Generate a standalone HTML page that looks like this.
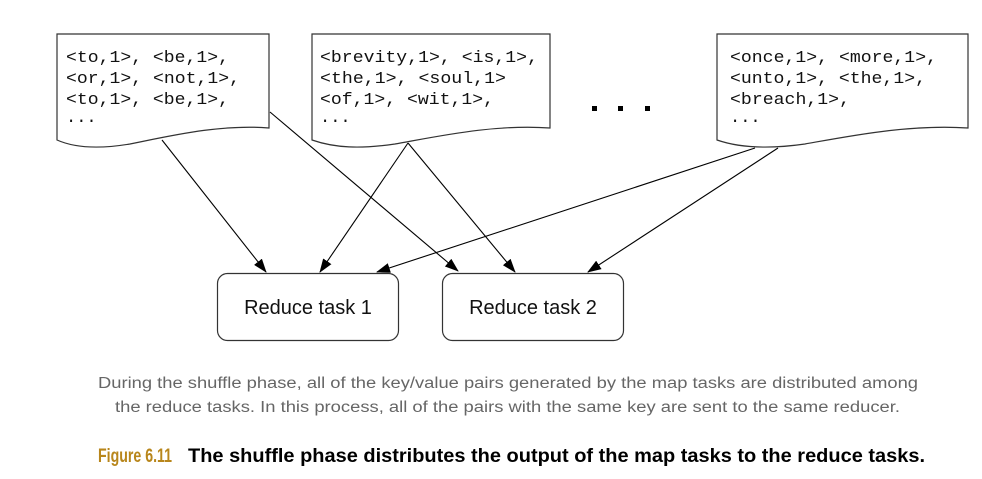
<!DOCTYPE html>
<html><head><meta charset="utf-8"><style>
html,body{margin:0;padding:0;background:#fff;width:982px;height:479px;overflow:hidden}
svg{display:block}
.m{font-family:"Liberation Mono",monospace;font-size:17px;fill:#111}
</style></head><body>
<svg width="982" height="479" viewBox="0 0 982 479" xmlns="http://www.w3.org/2000/svg">
<defs><marker id="a" markerWidth="14" markerHeight="10" refX="13" refY="5" orient="auto" markerUnits="userSpaceOnUse"><path d="M0,0 L14,5 L0,10 z" fill="#000"/></marker></defs>
<g fill="#fff" stroke="#333" stroke-width="1.2">
<path d="M57,34 H269 V128 C220,124 170,136 130,144 C100,149 75,148 57,140 Z"/>
<path d="M312,34 H550 V128 C495,124 440,136 395,144 C360,149 335,148 312,140 Z"/>
<path d="M717,34 H968 V128 C910,124 850,136 805,144 C770,149 740,148 717,140 Z"/>
<rect x="217.5" y="273.5" width="181" height="67" rx="10"/>
<rect x="442.5" y="273.5" width="181" height="67" rx="10"/>
</g>
<g class="m">
<text x="66" y="62" textLength="163" lengthAdjust="spacingAndGlyphs">&lt;to,1&gt;, &lt;be,1&gt;,</text>
<text x="66" y="83" textLength="174" lengthAdjust="spacingAndGlyphs">&lt;or,1&gt;, &lt;not,1&gt;,</text>
<text x="66" y="104" textLength="163" lengthAdjust="spacingAndGlyphs">&lt;to,1&gt;, &lt;be,1&gt;,</text>
<text x="66" y="122">...</text>
<text x="320" y="62" textLength="218" lengthAdjust="spacingAndGlyphs">&lt;brevity,1&gt;, &lt;is,1&gt;,</text>
<text x="320" y="83" textLength="186" lengthAdjust="spacingAndGlyphs">&lt;the,1&gt;, &lt;soul,1&gt;</text>
<text x="320" y="104" textLength="174" lengthAdjust="spacingAndGlyphs">&lt;of,1&gt;, &lt;wit,1&gt;,</text>
<text x="320" y="122">...</text>
<text x="730" y="62" textLength="207" lengthAdjust="spacingAndGlyphs">&lt;once,1&gt;, &lt;more,1&gt;,</text>
<text x="730" y="83" textLength="196" lengthAdjust="spacingAndGlyphs">&lt;unto,1&gt;, &lt;the,1&gt;,</text>
<text x="730" y="104" textLength="120" lengthAdjust="spacingAndGlyphs">&lt;breach,1&gt;,</text>
<text x="730" y="122">...</text>
</g>
<g fill="#000"><rect x="592" y="106" width="5" height="5"/><rect x="618" y="106" width="5" height="5"/><rect x="645" y="106" width="5" height="5"/></g>
<g stroke="#000" stroke-width="1.1" marker-end="url(#a)">
<line x1="162" y1="140" x2="266" y2="272"/>
<line x1="270" y1="112" x2="458" y2="271"/>
<line x1="408" y1="143" x2="320" y2="272"/>
<line x1="408" y1="143" x2="515" y2="272"/>
<line x1="755" y1="148" x2="377" y2="272"/>
<line x1="778" y1="148" x2="588" y2="272"/>
</g>
<g font-family="Liberation Sans, sans-serif" font-size="20" fill="#111" text-anchor="middle">
<text x="308" y="314">Reduce task 1</text>
<text x="533" y="314">Reduce task 2</text>
</g>
<g font-family="Liberation Sans, sans-serif" font-size="15.5" fill="#666">
<text x="98" y="388" textLength="820" lengthAdjust="spacingAndGlyphs">During the shuffle phase, all of the key/value pairs generated by the map tasks are distributed among</text>
<text x="115" y="412" textLength="785" lengthAdjust="spacingAndGlyphs">the reduce tasks. In this process, all of the pairs with the same key are sent to the same reducer.</text>
</g>
<g font-family="Liberation Sans, sans-serif" font-size="19" font-weight="bold">
<text x="98" y="462" fill="#b8861b" textLength="74" lengthAdjust="spacingAndGlyphs">Figure 6.11</text>
<text x="188" y="462" fill="#000" textLength="737" lengthAdjust="spacingAndGlyphs">The shuffle phase distributes the output of the map tasks to the reduce tasks.</text>
</g>
</svg>
</body></html>
